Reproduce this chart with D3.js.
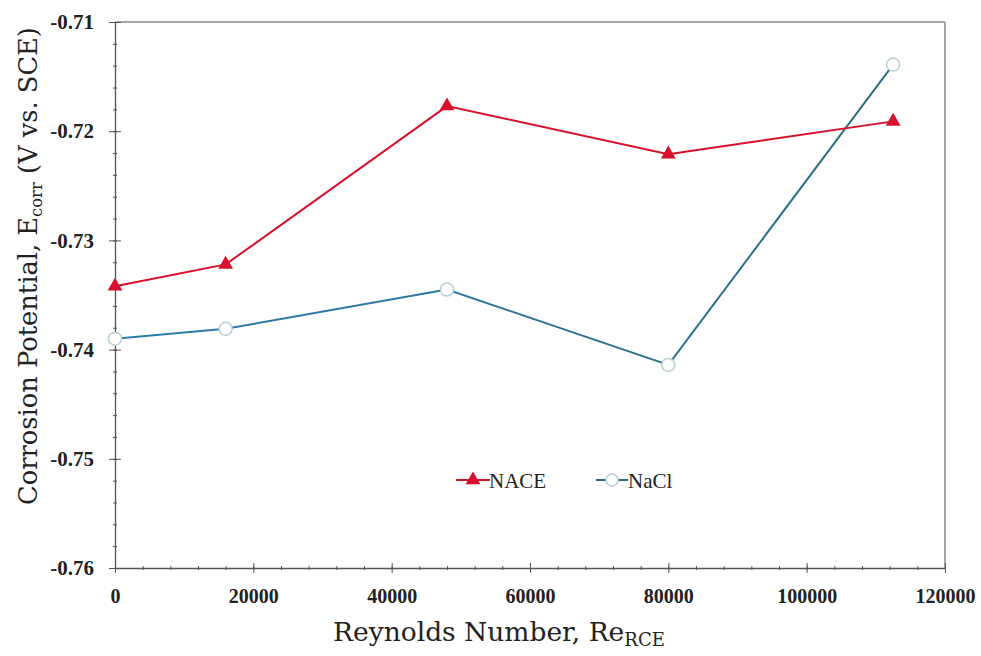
<!DOCTYPE html>
<html><head><meta charset="utf-8">
<script src="https://cdn.jsdelivr.net/npm/d3@7"></script>
<style>
html,body{margin:0;padding:0;background:#fff;}
svg{display:block;}
</style></head>
<body>
<svg id="chart" width="981" height="656"></svg>
<script>
const reynolds = [0, 16000, 48000, 80000, 112500];
const naceValues = [-0.7342, -0.7322, -0.7177, -0.7221, -0.7191];
const naclValues = [-0.7390, -0.7381, -0.7345, -0.7414, -0.7139];
const seriesNames = ["NACE", "NaCl"];
const xTicks = [0, 20000, 40000, 60000, 80000, 100000, 120000];
const yTicks = [-0.71, -0.72, -0.73, -0.74, -0.75, -0.76];

const svg = d3.select("#chart");
const m = {left: 115, right: 36, top: 22, bottom: 88};
const W = 981, H = 656;
const x = d3.scaleLinear().domain([0, 120000]).range([m.left, W - m.right]);
const y = d3.scaleLinear().domain([-0.76, -0.71]).range([H - m.bottom, m.top]);

const axisColor = "#555";
const tickFont = "'Liberation Serif', 'DejaVu Serif', serif";
const fmtY = v => d3.format(".2f")(v).replace("\u2212", "-");

// frame top & right
svg.append("line").attr("x1", x(0)).attr("x2", x(120000)).attr("y1", y(-0.71)).attr("y2", y(-0.71))
  .attr("stroke", "#888").attr("stroke-width", 1.5);
svg.append("line").attr("x1", x(120000)).attr("x2", x(120000)).attr("y1", y(-0.71)).attr("y2", y(-0.76))
  .attr("stroke", "#888").attr("stroke-width", 1.5);

// minor ticks
const xMinor = d3.range(0, 120001, 4000);
const yMinor = d3.range(0, 26).map(i => -0.76 + i * 0.002);

const gx = svg.append("g").attr("transform", `translate(0,${y(-0.76)})`);
gx.append("g").call(d3.axisBottom(x).tickValues(xMinor).tickSize(4).tickFormat(""))
  .call(g => g.select(".domain").remove())
  .call(g => g.selectAll("line").attr("stroke", axisColor).attr("transform", "translate(0,-2)"));
gx.append("g").call(d3.axisBottom(x).tickValues(xTicks).tickSizeInner(10).tickSizeOuter(0).tickFormat(d3.format("d")).tickPadding(11))
  .call(g => g.select(".domain").attr("stroke", axisColor).attr("stroke-width", 1.3))
  .call(g => g.selectAll(".tick line").attr("stroke", axisColor).attr("transform", "translate(0,-5)"))
  .call(g => g.selectAll("text").attr("font-family", tickFont).attr("font-weight", "bold")
    .attr("font-size", 20).attr("fill", "#222"));

const gy = svg.append("g").attr("transform", `translate(${x(0)},0)`);
gy.append("g").call(d3.axisLeft(y).tickValues(yMinor).tickSize(4).tickFormat(""))
  .call(g => g.select(".domain").remove())
  .call(g => g.selectAll("line").attr("stroke", axisColor).attr("transform", "translate(2,0)"));
gy.append("g").call(d3.axisLeft(y).tickValues(yTicks).tickSizeInner(12).tickSizeOuter(0).tickFormat(fmtY).tickPadding(8))
  .call(g => g.select(".domain").attr("stroke", axisColor).attr("stroke-width", 1.3))
  .call(g => g.selectAll(".tick line").attr("stroke", axisColor).attr("transform", "translate(6,0)"))
  .call(g => g.selectAll("text").attr("font-family", tickFont).attr("font-weight", "bold")
    .attr("font-size", 21).attr("fill", "#222").attr("dx", -1));

// axis titles
const titleFont = "'DejaVu Serif', 'Liberation Serif', serif";
function fitText(t, target) {
  const len = t.node().getComputedTextLength();
  const fs = parseFloat(t.attr("font-size"));
  const k = target / len;
  t.attr("font-size", fs * k);
  t.selectAll("tspan.sub").attr("font-size", function() { return parseFloat(d3.select(this).attr("font-size")) * k; });
}
const xt = svg.append("text").attr("x", 499).attr("y", 641).attr("text-anchor", "middle")
  .attr("font-family", titleFont).attr("font-size", 22).attr("fill", "#222");
xt.append("tspan").text("Reynolds Number, Re");
xt.append("tspan").attr("class", "sub").attr("font-size", 15).attr("dy", 5).text("RCE");
fitText(xt, 332);

const yt = svg.append("text").attr("transform", "translate(37,266) rotate(-90)").attr("text-anchor", "middle")
  .attr("font-family", titleFont).attr("font-size", 22).attr("fill", "#222");
yt.append("tspan").text("Corrosion Potential, E");
yt.append("tspan").attr("class", "sub").attr("font-size", 14).attr("dy", 5).text("corr");
yt.append("tspan").attr("dy", -5).text(" (V vs. SCE)");
fitText(yt, 478);

// series
const naceColor = "#d8102c";
const line = d3.line().x(d => x(d[0])).y(d => y(d[1]));
const nace = reynolds.map((r, i) => [r, naceValues[i]]);
const nacl = reynolds.map((r, i) => [r, naclValues[i]]);

const naclGrad = svg.append("defs").append("linearGradient").attr("id", "naclG")
  .attr("gradientUnits", "userSpaceOnUse").attr("x1", x(0)).attr("x2", x(120000)).attr("y1", 0).attr("y2", 0);
naclGrad.append("stop").attr("offset", "0%").attr("stop-color", "#2b7cb0");
naclGrad.append("stop").attr("offset", "100%").attr("stop-color", "#2c6d7a");

svg.append("path").datum(nacl).attr("d", line).attr("fill", "none").attr("stroke", "url(#naclG)").attr("stroke-width", 2);
svg.append("path").datum(nace).attr("d", line).attr("fill", "none").attr("stroke", naceColor).attr("stroke-width", 2);

const tri = d3.symbol().type(d3.symbolTriangle).size(95);
svg.selectAll(".tri").data(nace).enter().append("path")
  .attr("transform", d => `translate(${x(d[0])},${y(d[1])})`).attr("d", tri).attr("fill", naceColor);
svg.selectAll(".circ").data(nacl).enter().append("circle")
  .attr("cx", d => x(d[0])).attr("cy", d => y(d[1])).attr("r", 6.5)
  .attr("fill", "#fff").attr("stroke", "#b9cfd6").attr("stroke-width", 1.5);

// legend
const lg = svg.append("g").attr("font-family", tickFont).attr("font-size", 21).attr("fill", "#222");
lg.append("line").attr("x1", 456).attr("x2", 490).attr("y1", 480).attr("y2", 480).attr("stroke", naceColor).attr("stroke-width", 2);
lg.append("path").attr("transform", "translate(473,480)").attr("d", tri).attr("fill", naceColor);
lg.append("text").attr("x", 489).attr("y", 488).text(seriesNames[0]);
lg.append("line").attr("x1", 596).attr("x2", 628).attr("y1", 480).attr("y2", 480).attr("stroke", "#2c6d7a").attr("stroke-width", 2);
lg.append("circle").attr("cx", 612).attr("cy", 480).attr("r", 6).attr("fill", "#fff").attr("stroke", "#b9cfd6").attr("stroke-width", 1.5);
lg.append("text").attr("x", 628).attr("y", 488).text(seriesNames[1]);
</script>
</body></html>
